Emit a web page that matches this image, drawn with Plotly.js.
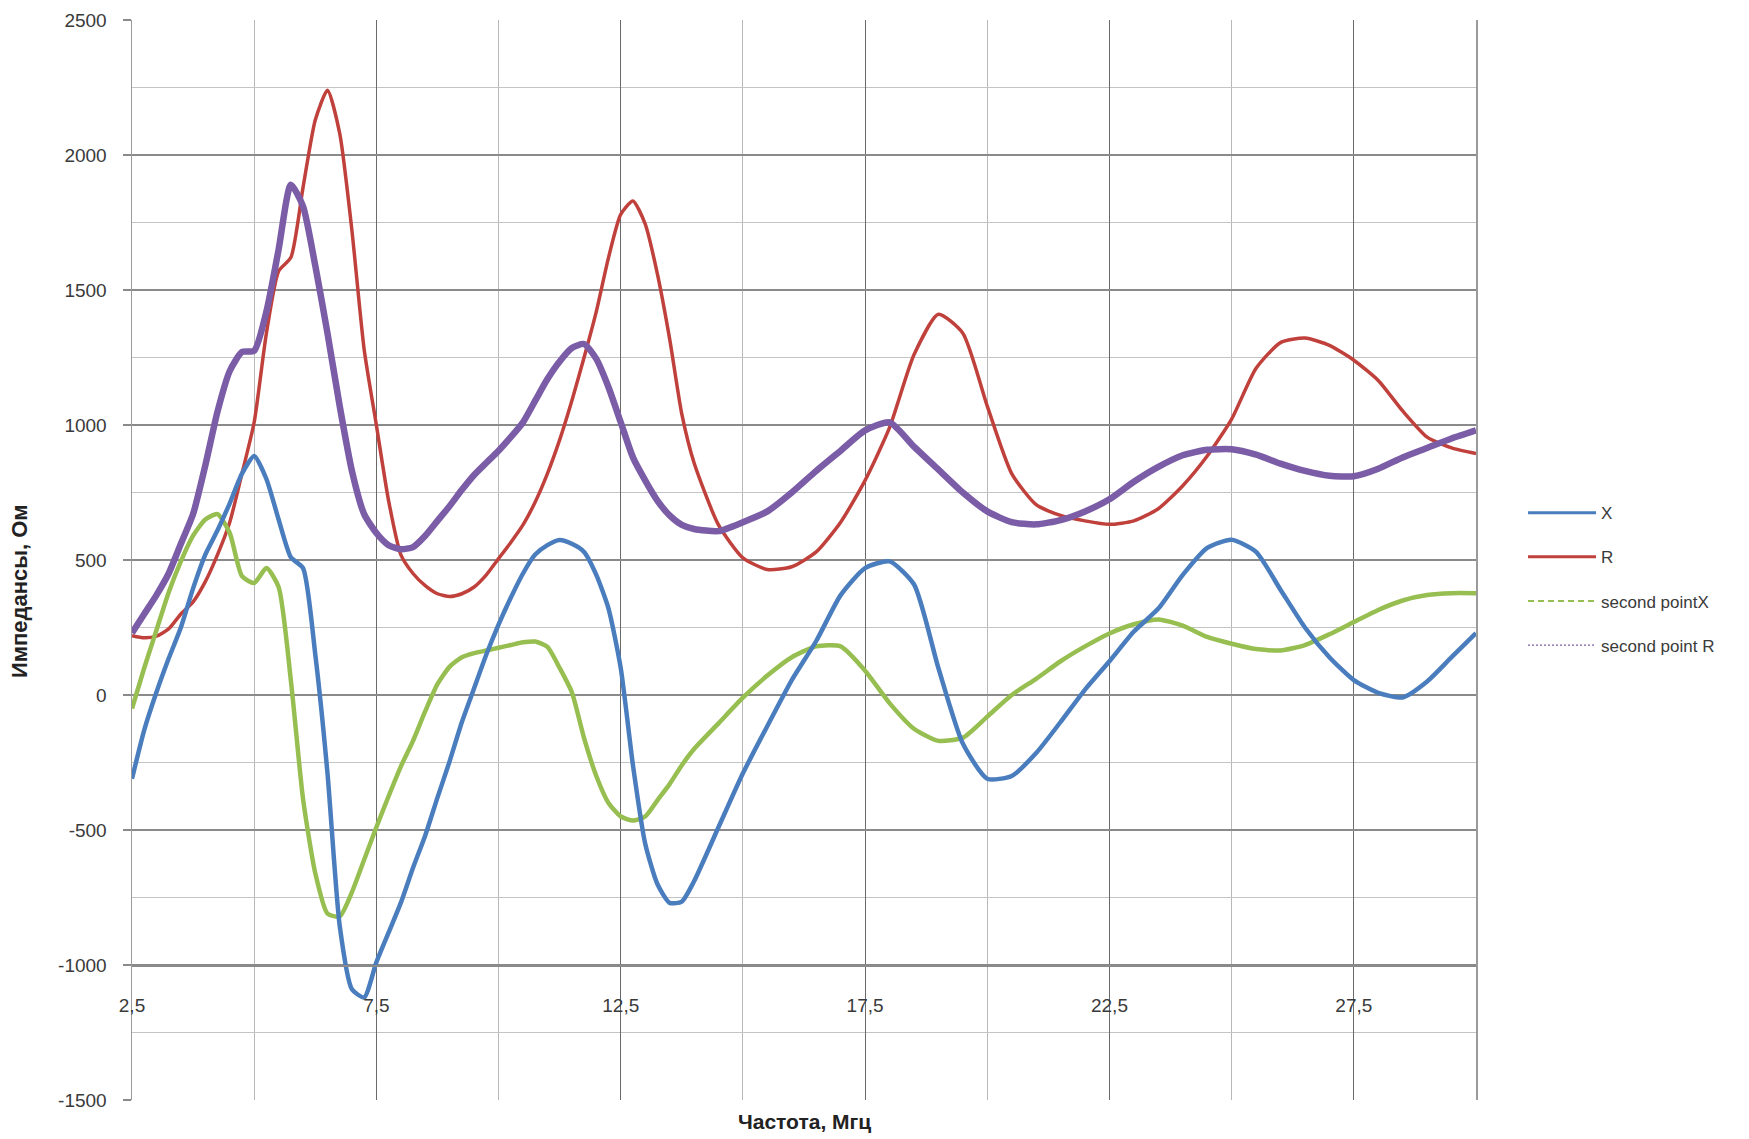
<!DOCTYPE html>
<html>
<head>
<meta charset="utf-8">
<script src="https://cdn.plot.ly/plotly-3.0.1.min.js"></script>
<style>
  html, body { margin: 0; padding: 0; background: #ffffff; }
  #chart { width: 1749px; height: 1139px; }
</style>
</head>
<body>
<div id="chart"></div>
<script>
// Frequency, MHz
const freq = [
  2.5, 2.75, 3.0, 3.25, 3.5, 3.75, 4.0, 4.25, 4.5, 4.75,
  5.0, 5.25, 5.5, 5.75, 6.0, 6.25, 6.5, 6.75, 7.0, 7.25,
  7.5, 7.75, 8.0, 8.25, 8.5, 8.75, 9.0, 9.25, 9.5, 9.75,
  10.0, 10.25, 10.5, 10.75, 11.0, 11.25, 11.5, 11.75, 12.0, 12.25,
  12.5, 12.75, 13.0, 13.25, 13.5, 13.75, 14.0, 14.5, 15.0, 15.5,
  16.0, 16.5, 17.0, 17.5, 18.0, 18.5, 19.0, 19.5, 20.0, 20.5,
  21.0, 21.5, 22.0, 22.5, 23.0, 23.5, 24.0, 24.5, 25.0, 25.5,
  26.0, 26.5, 27.0, 27.5, 28.0, 28.5, 29.0, 29.5, 30.0
];

// X (blue)
const seriesX = [
  -310, -130, 10, 135, 250, 395, 520, 610, 710, 820,
  885, 800, 650, 510, 470, 150, -290, -855, -1090, -1120,
  -990, -880, -770, -640, -520, -380, -245, -100, 25, 150,
  261, 360, 450, 520, 555, 574, 560, 530, 445, 320,
  100, -260, -550, -700, -770, -765, -690, -490, -290, -115,
  55, 200, 370, 470, 495, 410, 100, -180, -310, -300,
  -215, -100, 20, 125, 235, 320, 445, 545, 575, 530,
  390, 250, 140, 55, 8, -9, 50, 140, 229
];

// R (red)
const seriesR = [
  220, 212, 218, 245, 300, 345, 420, 520, 640, 820,
  1010, 1340, 1570, 1620, 1880, 2130, 2240, 2080, 1720, 1280,
  1000, 720, 520, 450, 405, 375, 365, 375, 400, 445,
  505, 565, 630, 715, 820, 945, 1090, 1250, 1420, 1620,
  1780, 1830, 1745, 1560, 1320, 1040, 860, 630, 508, 465,
  475, 530, 640, 795, 990, 1260, 1410, 1340, 1070, 820,
  705, 665, 645, 632, 645, 690, 775, 885, 1022, 1210,
  1305, 1322, 1295, 1240, 1165, 1052, 955, 915, 894
];

// second pointX (green)
const series2X = [
  -50, 100, 240, 380, 495, 590, 650, 670, 600, 440,
  415, 470, 400, 55, -385, -660, -810, -820, -730, -610,
  -490, -375, -265, -170, -60, 40, 105, 140, 155, 165,
  175, 185, 195, 198, 178, 100, 10, -160, -300, -400,
  -450, -465, -450, -390, -330, -260, -200, -105, -10, 72,
  140, 180, 180, 90, -30, -125, -170, -158, -80, 0,
  60, 125, 180, 228, 262, 280, 257, 215, 190, 170,
  165, 185, 225, 270, 315, 350, 370, 377, 377
];

// second point R (purple)
const series2R = [
  230, 300, 370, 450, 560, 670, 850, 1050, 1200, 1270,
  1275, 1420, 1650, 1890, 1810, 1590, 1340, 1070, 830, 670,
  600, 555, 540, 548, 590, 645, 700, 760, 815, 860,
  905, 955, 1010, 1090, 1170, 1235, 1285, 1300, 1245, 1140,
  1010, 880, 795, 720, 665, 630, 615, 607, 640, 680,
  750, 830, 905, 980, 1010, 920, 835, 750, 680, 640,
  632, 648, 680, 725, 790, 845, 888, 908, 910, 890,
  857, 830, 812, 810, 838, 880, 915, 950, 980
];

const seriesNames = ['X', 'R', 'second pointX', 'second point R'];
const xTickVals = [2.5, 7.5, 12.5, 17.5, 22.5, 27.5];
const xTickText = ['2,5', '7,5', '12,5', '17,5', '22,5', '27,5'];
const yTickVals = [-1500, -1000, -500, 0, 500, 1000, 1500, 2000, 2500];
const yTickText = ['-1500', '-1000', '-500', '0', '500', '1000', '1500', '2000', '2500'];
const xTitle = 'Частота, Мгц';
const yTitle = 'Импедансы, Ом';

const colors = ['#4a7dbd', '#c0403c', '#97be50', '#7b5ca6'];
const FONT = '"Liberation Sans", Arial, sans-serif';

function dataTrace(y, color, width) {
  return {
    x: freq, y: y, type: 'scatter', mode: 'lines',
    line: { color: color, width: width, shape: 'spline', smoothing: 0.6 },
    showlegend: false, hoverinfo: 'x+y'
  };
}
function legendTrace(name, color, width, dash, group) {
  return {
    x: [null], y: [null], type: 'scatter', mode: 'lines', name: name,
    legendgroup: group,
    line: { color: color, width: width, dash: dash }
  };
}

const traces = [
  dataTrace(seriesR, colors[1], 3.5),
  dataTrace(series2R, colors[3], 6.5),
  dataTrace(series2X, colors[2], 4.5),
  dataTrace(seriesX, colors[0], 4.5),
  legendTrace(seriesNames[0], colors[0], 3, 'solid', 'g1'),
  legendTrace(seriesNames[1], colors[1], 3, 'solid', 'g2'),
  legendTrace(seriesNames[2], colors[2], 2, '6px,4px', 'g3'),
  legendTrace(seriesNames[3], colors[3], 1.2, '2px,2px', 'g4')
];

const layout = {
  width: 1749, height: 1139,
  paper_bgcolor: '#ffffff', plot_bgcolor: '#ffffff',
  margin: { l: 132, r: 273, t: 20, b: 39 },
  font: { family: FONT, size: 19, color: '#3a3a3a' },
  showlegend: true,
  legend: {
    x: 1.035, xanchor: 'left', y: 0.56, yanchor: 'top',
    font: { family: FONT, size: 17, color: '#3a3a3a' },
    itemwidth: 68, tracegroupgap: 19, bgcolor: 'rgba(0,0,0,0)'
  },
  xaxis: {
    range: [2.5, 30],
    anchor: 'free', position: 0.125,
    tickmode: 'array', tickvals: xTickVals, ticktext: xTickText,
    ticks: '', ticklabelstandoff: 23,
    tickfont: { family: FONT, size: 19, color: '#3a3a3a' },
    showgrid: true, gridcolor: '#6a6a6a', gridwidth: 1,
    minor: { tickmode: 'linear', tick0: 2.5, dtick: 2.5, showgrid: true, gridcolor: '#b8b8b8', gridwidth: 1, ticks: '' },
    showline: true, linecolor: '#8a8a8a', linewidth: 1.5,
    zeroline: false
  },
  yaxis: {
    range: [-1500, 2500],
    tickmode: 'array', tickvals: yTickVals, ticktext: yTickText,
    ticks: 'outside', ticklen: 8, tickcolor: '#8a8a8a', tickwidth: 1.5,
    ticklabelstandoff: 12,
    tickfont: { family: FONT, size: 19, color: '#3a3a3a' },
    showgrid: true, gridcolor: '#8a8a8a', gridwidth: 1.5,
    minor: { tickmode: 'linear', tick0: 0, dtick: 250, showgrid: true, gridcolor: '#c4c4c4', gridwidth: 1, ticks: '' },
    showline: true, mirror: true, linecolor: '#9a9a9a', linewidth: 1.5,
    zeroline: false
  },
  annotations: [
    {
      text: '<b>' + xTitle + '</b>', xref: 'paper', yref: 'paper',
      x: 0.5, y: -0.0195, xanchor: 'center', yanchor: 'middle', showarrow: false,
      font: { family: FONT, size: 21, color: '#222222' }
    },
    {
      text: '<b>' + yTitle + '</b>', xref: 'paper', yref: 'paper',
      x: -0.0835, y: 0.471, xanchor: 'center', yanchor: 'middle', showarrow: false,
      textangle: -90,
      font: { family: FONT, size: 22, color: '#222222' }
    }
  ]
};

Plotly.newPlot('chart', traces, layout, { displayModeBar: false, staticPlot: true });
</script>
</body>
</html>
